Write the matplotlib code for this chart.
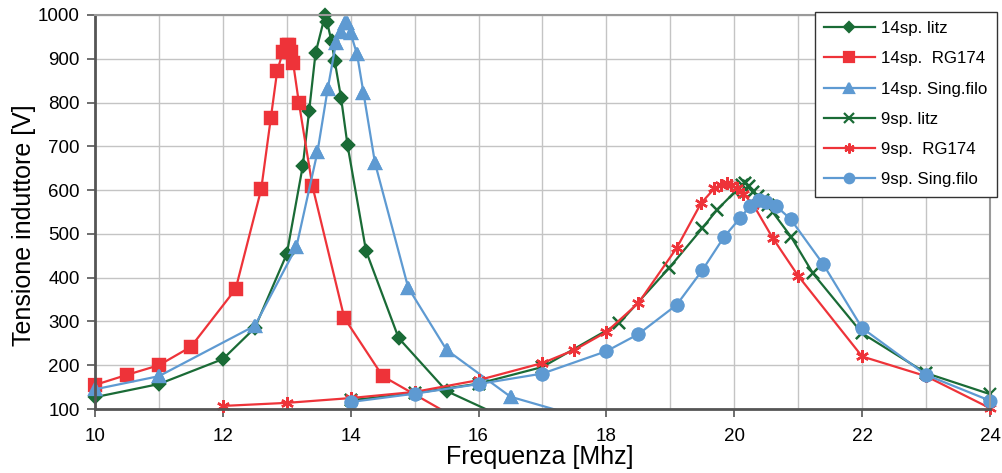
import matplotlib
matplotlib.use("Agg")
import matplotlib.pyplot as plt
import numpy as np

GREEN = "#1a6b36"
RED = "#ee3339"
BLUE = "#5e9ad2"

# 14 spire
f_14_litz = [10, 11, 12, 12.5, 13.0, 13.25, 13.35, 13.45, 13.6, 13.63, 13.7, 13.75,
             13.85, 13.95, 14.24, 14.75, 15.5, 17]
v_14_litz = [127, 157, 214, 285, 454, 655, 781, 913, 1000, 984, 940, 895,
             810, 703, 461, 262, 141, 40]

f_14_rg = [10, 10.5, 11, 11.5, 12.2, 12.6, 12.75, 12.85, 12.94, 13.0, 13.04, 13.06,
           13.1, 13.19, 13.4, 13.9, 14.5, 16]
v_14_rg = [155, 178, 200, 242, 374, 602, 764, 872, 916, 931, 931, 916,
           890, 799, 610, 308, 175, 50]

f_14_sing = [10, 11, 12.5, 13.15, 13.48, 13.64, 13.77, 13.85, 13.91, 13.94, 14.0,
             14.1, 14.2, 14.38, 14.9, 15.5, 16.5, 18]
v_14_sing = [145, 175, 290, 470, 687, 831, 936, 962, 981, 981, 958,
             910, 822, 662, 377, 235, 128, 65]

# 9 spire
f_9_litz = [14, 15, 16, 17, 18.2, 18.98, 19.5, 19.73, 20.01, 20.12, 20.17, 20.23,
            20.3, 20.37, 20.45, 20.53, 20.6, 20.89, 21.23, 22, 23, 24]
v_9_litz = [120, 136, 158, 196, 296, 422, 513, 555, 596, 612, 616, 609,
            596, 586, 577, 566, 550, 493, 410, 273, 182, 134]

f_9_rg = [12, 13, 14, 15, 16, 17, 17.5, 18.0, 18.5, 19.1, 19.48, 19.69, 19.8,
          19.88, 19.95, 20.04, 20.14, 20.3, 20.6, 21.0, 22, 23, 24]
v_9_rg = [107, 114, 125, 139, 166, 205, 235, 276, 342, 468, 570, 604, 612,
          616, 612, 604, 592, 566, 491, 404, 220, 175, 102]

f_9_sing = [14, 15, 16, 17, 18.0, 18.5, 19.1, 19.5, 19.84, 20.09, 20.25, 20.39,
            20.5, 20.65, 20.88, 21.39, 22, 23, 24]
v_9_sing = [116, 135, 157, 181, 232, 271, 338, 417, 493, 536, 564, 577,
            573, 564, 534, 431, 285, 178, 119]

series = [
    (f_14_litz, v_14_litz, GREEN, "D", 6.5, "14sp. litz"),
    (f_14_rg, v_14_rg, RED, "s", 8.5, "14sp.  RG174"),
    (f_14_sing, v_14_sing, BLUE, "^", 8.5, "14sp. Sing.filo"),
    (f_9_litz, v_9_litz, GREEN, "x", 8.5, "9sp. litz"),
    (f_9_rg, v_9_rg, RED, (6, 2, 0), 9, "9sp.  RG174"),
    (f_9_sing, v_9_sing, BLUE, "o", 8.5, "9sp. Sing.filo"),
]

font = ["Liberation Sans", "DejaVu Sans"]

fig = plt.figure(figsize=(10.02, 4.73), dpi=100)
ax = fig.add_axes([0.0948, 0.1353, 0.8932, 0.8330])

for f, v, col, mk, ms, lab in series:
    f = np.array(f)
    v = np.array(v)
    ax.plot(f, v, color=col, lw=1.6, marker=mk, ms=ms, mew=1.6,
            mec=col, mfc=col, label=lab)
    keep = v >= 100
    # markers sitting on the frame stay whole
    ax.plot(f[keep], v[keep], ls="none", marker=mk, ms=ms, mew=1.6,
            mec=col, mfc=col, clip_on=False)

ax.set_xlim(10, 24)
ax.set_ylim(100, 1000)
ax.set_xticks(np.arange(10, 25, 2))
ax.set_xticks(np.arange(10, 25, 1), minor=True)
ax.set_yticks(np.arange(100, 1001, 100))
ax.grid(True, which="both", color="#c4c4c4", lw=1.0)
ax.set_axisbelow(True)
ax.tick_params(axis="x", which="minor", length=0)
ax.tick_params(axis="both", which="major", length=6, width=1.2,
               color="#555555", labelsize=13.5)
ax.tick_params(axis="x", pad=8)
ax.tick_params(axis="y", pad=5)

for lbl in ax.get_xticklabels() + ax.get_yticklabels():
    lbl.set_family(font)

for side in ("left", "bottom"):
    ax.spines[side].set_color("#555555")
    ax.spines[side].set_linewidth(2.0)
for side in ("top", "right"):
    ax.spines[side].set_color("#9a9a9a")
    ax.spines[side].set_linewidth(1.5)

ax.set_xlabel("Frequenza [Mhz]", fontsize=18, family=font)
ax.set_ylabel("Tensione induttore [V]", fontsize=18, family=font)
ax.xaxis.set_label_coords(0.4965, -0.092)
ax.yaxis.set_label_coords(-0.066, 0.467)

leg = ax.legend(loc="upper left", bbox_to_anchor=(0.804, 1.008),
                fancybox=False, framealpha=1, edgecolor="#333333",
                prop={"family": font, "size": 12.2},
                handlelength=3.0, labelspacing=0.9, borderpad=0.55,
                handletextpad=0.4, borderaxespad=0)
leg.get_frame().set_linewidth(1.0)
for h in leg.get_lines():
    h.set_markersize(h.get_markersize() * 0.8)

fig.savefig("out.png", dpi=100)
